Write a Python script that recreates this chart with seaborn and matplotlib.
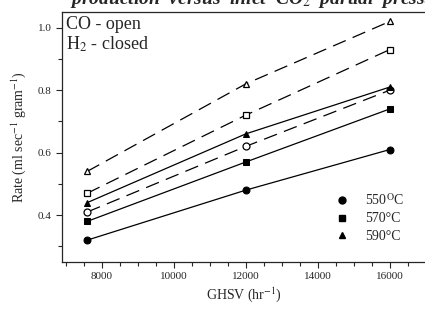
import numpy as np
import pandas as pd
import seaborn as sns
import matplotlib
matplotlib.use("Agg")
import matplotlib.pyplot as plt
from matplotlib.ticker import MultipleLocator
from matplotlib.lines import Line2D

# data
ghsv = [7600, 12000, 16000]
temps = ["550", "570", "590"]
co_open = {          # solid lines, filled markers
    "550": [0.32, 0.48, 0.61],
    "570": [0.38, 0.57, 0.74],
    "590": [0.44, 0.66, 0.81],
}
h2_closed = {        # dashed lines, open markers
    "550": [0.41, 0.62, 0.80],
    "570": [0.47, 0.72, 0.93],
    "590": [0.54, 0.82, 1.02],
}
legend_labels = ["550$^{\\mathrm{O}}$C", "570\u00b0C", "590\u00b0C"]

rows = []
for t in temps:
    for x, y in zip(ghsv, co_open[t]):
        rows.append({"GHSV": x, "Rate": y, "T": t, "mode": "CO open"})
    for x, y in zip(ghsv, h2_closed[t]):
        rows.append({"GHSV": x, "Rate": y, "T": t, "mode": "H2 closed"})
df = pd.DataFrame(rows)

sns.set_style("ticks")
plt.rcParams["font.family"] = ["Liberation Serif", "DejaVu Serif"]
plt.rcParams["mathtext.fontset"] = "stix"

fig = plt.figure(figsize=(4.25, 3.10), dpi=100)
ax = fig.add_axes([62 / 425, 48 / 310, 364 / 425, 250 / 310])

markers = {"550": "o", "570": "s", "590": "^"}
for t in temps:
    sub = df[(df["T"] == t) & (df["mode"] == "CO open")]
    sns.lineplot(data=sub, x="GHSV", y="Rate", ax=ax, color="black", lw=0.9,
                 marker=markers[t], markersize=5, markeredgecolor="black",
                 markerfacecolor="black")
    sub = df[(df["T"] == t) & (df["mode"] == "H2 closed")]
    sns.lineplot(data=sub, x="GHSV", y="Rate", ax=ax, color="black", lw=0.9,
                 marker=markers[t], markersize=5, markeredgecolor="black",
                 markerfacecolor="white", markeredgewidth=0.9)
for line in ax.lines[1::2]:
    line.set_dashes([11, 6])

ax.set_xlim(6900, 17000)
ax.set_ylim(0.25, 1.05)
ax.xaxis.set_major_locator(MultipleLocator(2000))
ax.xaxis.set_minor_locator(MultipleLocator(500))
ax.yaxis.set_minor_locator(MultipleLocator(0.1))
ax.set_yticks([0.4, 0.6, 0.8, 1.0])
ax.set_yticklabels(["0.4", "0.6", "0.8", "1.0"])
ax.tick_params(axis="both", which="major", direction="out", length=4,
               labelsize=8, width=0.8)
ax.tick_params(axis="both", which="minor", direction="out", length=3, width=0.8)
for s in ax.spines.values():
    s.set_linewidth(0.9)

ax.set_xlabel("GHSV (hr$^{-1}$)", fontsize=10, labelpad=3)
ax.set_ylabel("Rate (ml sec$^{-1}$ gram$^{-1}$)", fontsize=10, labelpad=7)

ax.text(0.012, 0.985, "CO - open\nH$_2$ - closed", transform=ax.transAxes,
        ha="left", va="top", fontsize=13, linespacing=1.1)

# legend-like key
handles = [Line2D([], [], ls="none", marker=markers[t], color="black",
                  markersize=5) for t in temps]
ax.legend(handles, legend_labels, loc="lower right",
          bbox_to_anchor=(0.975, 0.025), frameon=False, fontsize=10,
          handlelength=1.0, handletextpad=1.2, labelspacing=0.35)

fig.text(70 / 425, 1.0, "production  versus  inlet  CO$_2$  partial  pressure",
         ha="left", va="center", fontsize=14, fontweight="bold",
         fontstyle="italic")

fig.savefig("out.png", dpi=100)
